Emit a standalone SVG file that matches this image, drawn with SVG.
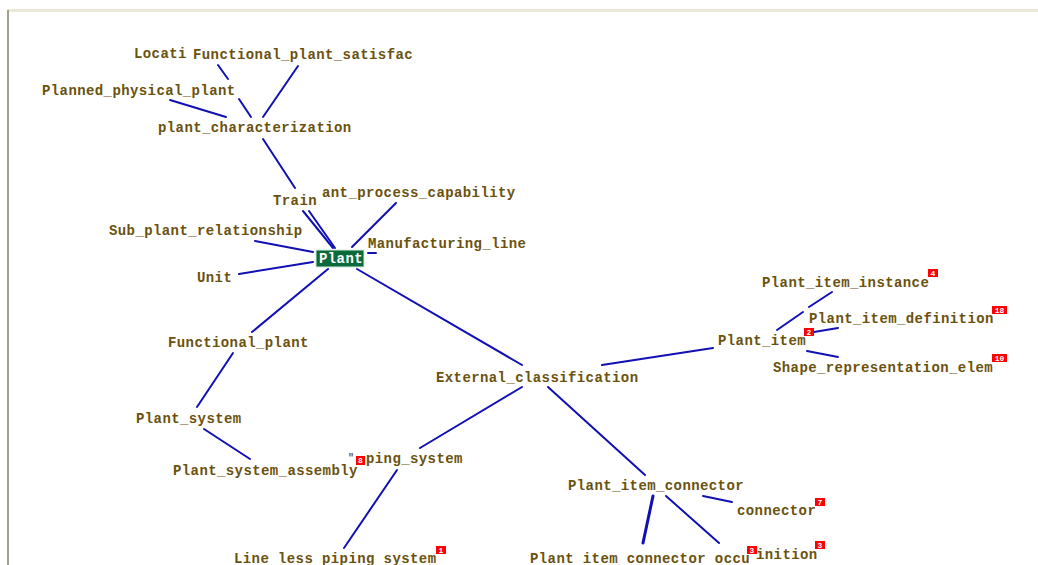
<svg xmlns="http://www.w3.org/2000/svg" width="1038" height="565" viewBox="0 0 1038 565">
<style>
.lbl{font-family:"Liberation Mono","DejaVu Sans Mono",monospace;font-weight:bold;font-size:14px;letter-spacing:0.4px;fill:#6a520e}
.ln{stroke:#1010b4;stroke-width:2;fill:none;stroke-linecap:round}
.bdg{fill:#ff0000}
.bt{font-family:"Liberation Mono","DejaVu Sans Mono",monospace;font-weight:bold;font-size:8px;fill:#ffffff;text-anchor:middle}
</style>
<rect x="0" y="0" width="1038" height="565" fill="#ffffff"/>
<rect x="7" y="9" width="1031" height="3" fill="#ece9d8"/>
<rect x="7" y="10" width="2" height="555" fill="#a3a18e"/>
<g id="connectors">
<line class="ln" x1="218" y1="65" x2="228" y2="79"/>
<line class="ln" x1="239" y1="99" x2="251" y2="117"/>
<line class="ln" x1="298" y1="66" x2="263" y2="117"/>
<line class="ln" x1="170" y1="100" x2="226" y2="117"/>
<line class="ln" x1="263" y1="139" x2="295" y2="188"/>
<line class="ln" x1="303" y1="211" x2="333" y2="248"/>
<line class="ln" x1="309" y1="211" x2="335" y2="248"/>
<line class="ln" x1="396" y1="203" x2="352" y2="247"/>
<line class="ln" x1="255" y1="241" x2="313" y2="252"/>
<line class="ln" x1="368" y1="253" x2="376" y2="253"/>
<line class="ln" x1="239" y1="274" x2="313" y2="262"/>
<line class="ln" x1="328" y1="269" x2="252" y2="332"/>
<line class="ln" x1="357" y1="269" x2="522" y2="365"/>
<line class="ln" x1="233" y1="353" x2="197" y2="407"/>
<line class="ln" x1="204" y1="429" x2="250" y2="459"/>
<line class="ln" x1="522" y1="387" x2="420" y2="448"/>
<line class="ln" x1="397" y1="470" x2="344" y2="548"/>
<line class="ln" x1="602" y1="365" x2="713" y2="348"/>
<line class="ln" x1="548" y1="387" x2="645" y2="475"/>
<line class="ln" x1="653" y1="496" x2="643" y2="543" style="stroke-width:3"/>
<line class="ln" x1="666" y1="496" x2="719" y2="543"/>
<line class="ln" x1="703" y1="496" x2="732" y2="502"/>
<line class="ln" x1="777" y1="330" x2="803" y2="312"/>
<line class="ln" x1="809" y1="307" x2="832" y2="292"/>
<line class="ln" x1="814" y1="332" x2="838" y2="328"/>
<line class="ln" x1="807" y1="351" x2="838" y2="357"/>
</g>
<g id="n-location"><text class="lbl" x="134" y="58">Locati</text></g>
<g id="n-functional-plant-satisfac"><text class="lbl" x="193" y="59">Functional_plant_satisfac</text></g>
<g id="n-planned-physical-plant"><text class="lbl" x="42" y="95">Planned_physical_plant</text></g>
<g id="n-plant-characterization"><text class="lbl" x="158" y="132">plant_characterization</text></g>
<g id="n-plant-process-capability"><text class="lbl" x="322" y="197">ant_process_capability</text></g>
<g id="n-train"><text class="lbl" x="273" y="205">Train</text></g>
<g id="n-sub-plant-relationship"><text class="lbl" x="109" y="235">Sub_plant_relationship</text></g>
<g id="n-manufacturing-line"><text class="lbl" x="368" y="248">Manufacturing_line</text></g>
<g id="n-plant">
<rect x="316" y="250" width="48" height="17" fill="#0b6a3c" stroke="#d8e8dc" stroke-width="1"/>
<text class="lbl" x="319" y="263" style="fill:#ffffff">Plant</text>
</g>
<g id="n-unit"><text class="lbl" x="197" y="282">Unit</text></g>
<g id="n-functional-plant"><text class="lbl" x="168" y="347">Functional_plant</text></g>
<g id="n-external-classification"><text class="lbl" x="436" y="382">External_classification</text></g>
<g id="n-plant-item">
<text class="lbl" x="718" y="345">Plant_item</text>
<rect class="bdg" x="804" y="328" width="10" height="8"/><text class="bt" x="809" y="335">2</text>
</g>
<g id="n-plant-item-instance">
<text class="lbl" x="762" y="287">Plant_item_instance</text>
<rect class="bdg" x="928" y="269" width="10" height="8"/><text class="bt" x="933" y="276">4</text>
</g>
<g id="n-plant-item-definition">
<text class="lbl" x="809" y="323">Plant_item_definition</text>
<rect class="bdg" x="992" y="306" width="15" height="8"/><text class="bt" x="999.5" y="313">18</text>
</g>
<g id="n-shape-representation-elem">
<text class="lbl" x="773" y="372">Shape_representation_elem</text>
<rect class="bdg" x="992" y="354" width="15" height="8"/><text class="bt" x="999.5" y="361">10</text>
</g>
<g id="n-plant-system"><text class="lbl" x="136" y="423">Plant_system</text></g>
<g id="n-plant-system-assembly"><text class="lbl" x="173" y="475">Plant_system_assembly</text></g>
<g id="n-piping-system">
<text class="lbl" x="348" y="461" style="font-size:10px">"</text>
<text class="lbl" x="366" y="463">ping_system</text>
<rect class="bdg" x="356" y="456" width="9" height="9"/><text class="bt" x="360.5" y="463">8</text>
</g>
<g id="n-line-less-piping-system">
<text class="lbl" x="234" y="563">Line less piping system</text>
<rect class="bdg" x="436" y="546" width="10" height="8"/><text class="bt" x="441" y="553">1</text>
</g>
<g id="n-plant-item-connector"><text class="lbl" x="568" y="490">Plant_item_connector</text></g>
<g id="n-connector">
<text class="lbl" x="737" y="515">connector</text>
<rect class="bdg" x="815" y="498" width="10" height="8"/><text class="bt" x="820" y="505">7</text>
</g>
<g id="n-plant-item-connector-occu">
<text class="lbl" x="530" y="563">Plant item connector occu</text>
<rect class="bdg" x="747" y="546" width="10" height="8"/><text class="bt" x="752" y="553">3</text>
</g>
<g id="n-connector-definition">
<text class="lbl" x="756" y="559">inition</text>
<rect class="bdg" x="815" y="541" width="10" height="8"/><text class="bt" x="820" y="548">3</text>
</g>
</svg>
